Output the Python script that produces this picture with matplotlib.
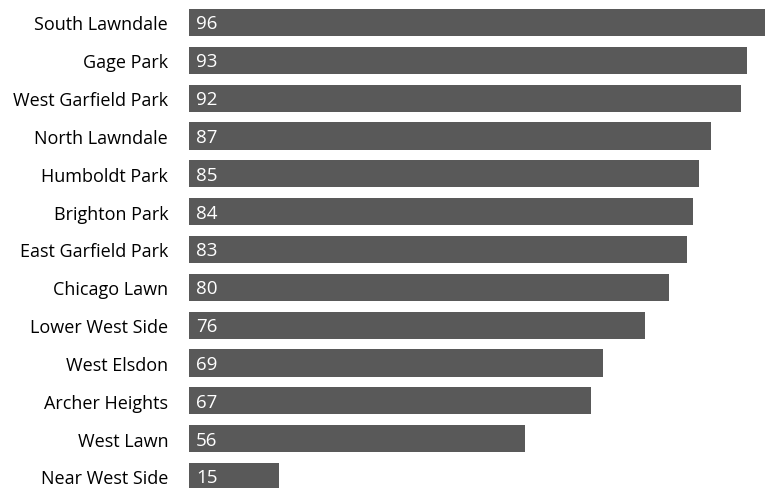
import matplotlib.pyplot as plt

neighborhoods = ["South Lawndale", "Gage Park", "West Garfield Park", "North Lawndale",
                 "Humboldt Park", "Brighton Park", "East Garfield Park", "Chicago Lawn",
                 "Lower West Side", "West Elsdon", "Archer Heights", "West Lawn",
                 "Near West Side"]
values = [96, 93, 92, 87, 85, 84, 83, 80, 76, 69, 67, 56, 15]

plt.rcParams['font.family'] = ['Open Sans', 'DejaVu Sans']

fig = plt.figure(figsize=(7.65, 4.89), dpi=100)
ax = fig.add_axes([189 / 765, 0, 576 / 765, 1])

pos = list(range(len(values)))
ax.barh(pos, values, height=0.714, color='#595959')

for y, v in zip(pos, values):
    ax.annotate(str(v), xy=(0, y), xytext=(7, -1), textcoords='offset pixels',
                ha='left', va='center', color='white', fontsize=13.5)

ax.set_xlim(0, 96)
ax.set_ylim(12.304, -0.621)
ax.set_yticks(pos)
ax.set_yticklabels(neighborhoods, fontsize=13)
ax.tick_params(axis='y', length=0, pad=15)
ax.set_xticks([])
for s in ax.spines.values():
    s.set_visible(False)

fig.savefig('out.png', dpi=100)
